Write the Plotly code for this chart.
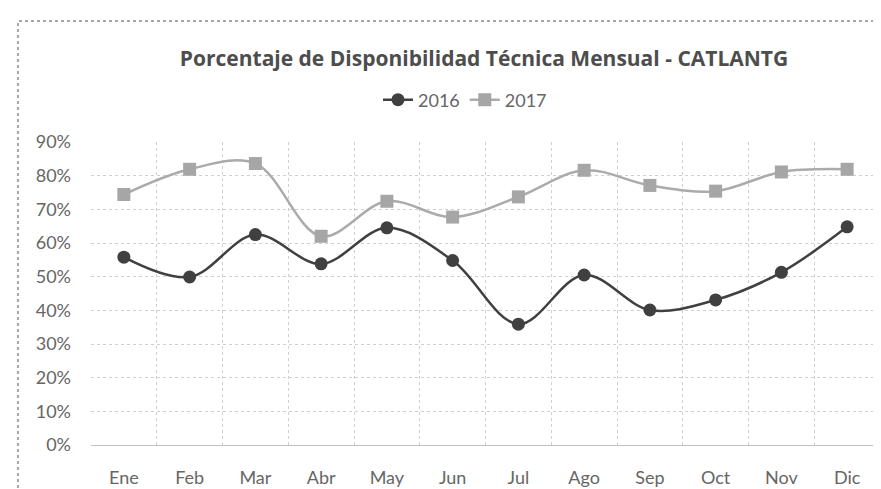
import plotly.graph_objects as go

# months and monthly technical availability (fraction)
meses = ["Ene", "Feb", "Mar", "Abr", "May", "Jun", "Jul", "Ago", "Sep", "Oct", "Nov", "Dic"]
disp_2016 = [0.558, 0.499, 0.625, 0.538, 0.645, 0.548, 0.359, 0.505, 0.401, 0.431, 0.513, 0.648]
disp_2017 = [0.744, 0.819, 0.836, 0.620, 0.724, 0.677, 0.737, 0.816, 0.771, 0.754, 0.811, 0.819]

W, H = 881, 489
L, R, T, B = 83, 9, 134, 52
pw, ph = W - L - R, H - T - B

FONT = "Lato, 'Open Sans', sans-serif"
TXT = "#666666"

fig = go.Figure()
fig.add_trace(go.Scatter(
    x=meses, y=disp_2016, name="2016",
    mode="lines+markers",
    line=dict(color="#404040", width=2.5, shape="spline", smoothing=1),
    marker=dict(symbol="circle", size=13, color="#404040"),
))
fig.add_trace(go.Scatter(
    x=meses, y=disp_2017, name="2017",
    mode="lines+markers",
    line=dict(color="#ababab", width=2.5, shape="spline", smoothing=1),
    marker=dict(symbol="square", size=13, color="#a6a6a6"),
))

# dotted chart-area border (like the Excel chart frame)
fig.add_shape(
    type="rect", xref="paper", yref="paper",
    x0=(10 - L) / pw, x1=(W + 20 - L) / pw,
    y0=-(B + 20) / ph, y1=1 + (T - 13) / ph,
    line=dict(color="#8c8c8c", width=1.5, dash="dot"),
    layer="below",
)

fig.update_layout(
    width=W, height=H,
    margin=dict(l=L, r=R, t=T, b=B),
    paper_bgcolor="white", plot_bgcolor="white",
    font=dict(family=FONT, size=18, color=TXT),
    title=dict(
        text="<b>Porcentaje de Disponibilidad Técnica Mensual - CATLANTG</b>",
        x=(476 - L) / pw, xref="paper", xanchor="center",
        y=1 - 51 / H, yanchor="middle",
        font=dict(family="'Open Sans', sans-serif", size=21, color="#4d4d4d"),
    ),
    legend=dict(
        orientation="h", x=(457 - L) / pw, xanchor="center",
        y=1 + (T - 92) / ph, yanchor="middle",
        font=dict(family=FONT, size=18, color=TXT),
        itemwidth=30, tracegroupgap=0,
    ),
    showlegend=True,
)

fig.update_xaxes(
    type="category", range=[-0.5, 11.5],
    tickson="boundaries", ticks="",
    showgrid=True, gridcolor="#d0d0d0", griddash="dot", gridwidth=1,
    showline=True, linecolor="#bfbfbf", linewidth=1,
    tickfont=dict(family=FONT, size=18, color=TXT),
    ticklabelstandoff=16,
)
fig.update_yaxes(
    range=[0, 0.9], dtick=0.1, tickformat=".0%",
    showgrid=True, gridcolor="#d0d0d0", griddash="dot", gridwidth=1,
    zeroline=False, showline=False,
    tickfont=dict(family=FONT, size=18, color=TXT),
    ticklabelstandoff=19,
)

fig.write_html("out.html")
